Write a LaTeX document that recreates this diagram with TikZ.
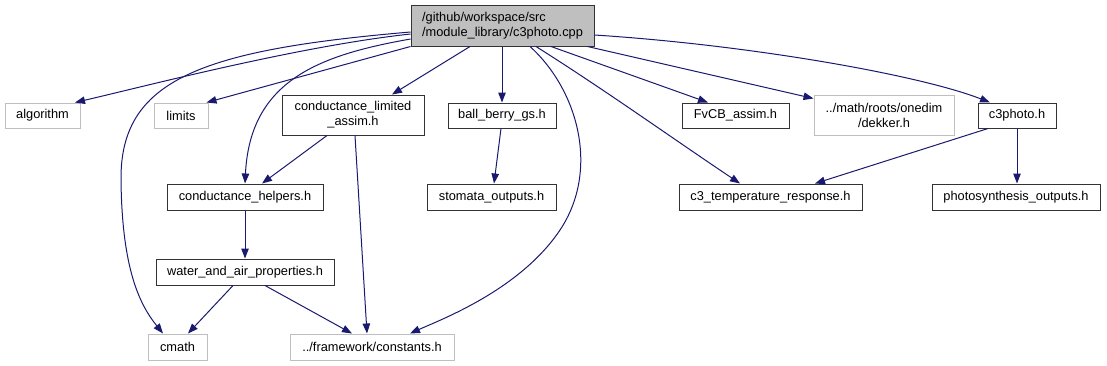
\documentclass[tikz,border=0pt]{standalone}
\usepackage{fontspec}
\setmainfont{Liberation Sans}
\usetikzlibrary{arrows.meta}
\definecolor{edgeblue}{HTML}{191970}
\definecolor{grayline}{HTML}{BFBFBF}
\definecolor{mainfill}{HTML}{BFBFBF}
\definecolor{boxline}{HTML}{333333}
\tikzset{
  filebox/.style={draw=boxline, line width=1pt, inner sep=0pt, align=center, font=\fontsize{12.8}{15}\selectfont},
  sysbox/.style={draw=grayline, line width=1pt, inner sep=0pt, align=center, font=\fontsize{12.8}{15}\selectfont},
  mainbox/.style={draw=boxline, fill=mainfill, line width=1pt, inner sep=0pt, align=left, font=\fontsize{12.8}{15}\selectfont},
  dep/.style={draw=edgeblue, line width=1pt, -{Triangle[length=10pt,width=7.5pt]}},
}
\begin{document}
\begin{tikzpicture}[x=1pt,y=-1pt]
\useasboundingbox (0,0) rectangle (1107,365);
% nodes
\node[mainbox, minimum width=183pt, minimum height=41pt] (main) at (502.5,25.5) {/github/workspace/src\\/module\_library/c3photo.cpp};
\node[sysbox, minimum width=75pt, minimum height=25pt] (algorithm) at (42.5,115.5) {algorithm};
\node[sysbox, minimum width=54pt, minimum height=25pt] (limits) at (181,115.5) {limits};
\node[filebox, minimum width=142pt, minimum height=40pt] (condlim) at (353,115) {conductance\_limited\\\_assim.h};
\node[filebox, minimum width=108pt, minimum height=25pt] (ballberry) at (502,115.5) {ball\_berry\_gs.h};
\node[filebox, minimum width=107pt, minimum height=25pt] (fvcb) at (735.5,115.5) {FvCB\_assim.h};
\node[sysbox, minimum width=140pt, minimum height=40pt] (dekker) at (884,115) {../math/roots/onedim\\/dekker.h};
\node[filebox, minimum width=78pt, minimum height=25pt] (c3photoh) at (1017,115.5) {c3photo.h};
\node[filebox, minimum width=156pt, minimum height=26pt] (condhelp) at (245,197) {conductance\_helpers.h};
\node[filebox, minimum width=129pt, minimum height=26pt] (stomata) at (491.5,197) {stomata\_outputs.h};
\node[filebox, minimum width=183pt, minimum height=26pt] (c3temp) at (770.5,197) {c3\_temperature\_response.h};
\node[filebox, minimum width=168pt, minimum height=26pt] (photosyn) at (1016,197) {photosynthesis\_outputs.h};
\node[filebox, minimum width=178pt, minimum height=26pt] (water) at (245,272) {water\_and\_air\_properties.h};
\node[sysbox, minimum width=59pt, minimum height=26pt] (cmath) at (177.5,347) {cmath};
\node[sysbox, minimum width=164pt, minimum height=26pt] (constants) at (372,347) {../framework/constants.h};
% edges from main
\draw[dep] ([yshift=-6.5pt]main.west) .. controls (200,50) and (120,80) .. (121,180) .. controls (122,270) and (140,305) .. ([xshift=-14.5pt]cmath.north);
\draw[dep] ([yshift=-8.5pt]main.west) .. controls (300,46) and (150,85) .. ([xshift=32.5pt]algorithm.north);
\draw[dep] ([yshift=-13.5pt]main.west) .. controls (320,55) and (250,80) .. (condhelp.north);
\draw[dep] (main.south west) -- ([xshift=-2pt]limits.north east);
\draw[dep] ([xshift=-32.5pt]main.south) -- ([xshift=39pt]condlim.north);
\draw[dep] (ballberry.north |- main.south) -- (ballberry.north);
\draw[dep] ([xshift=27.5pt]main.south) .. controls (578,90) and (600,170) .. (560,230) .. controls (520,290) and (440,320) .. ([xshift=38pt]constants.north);
\draw[dep] ([xshift=33.5pt]main.south) .. controls (605,90) and (672,138) .. ([xshift=-30.5pt]c3temp.north);
\draw[dep] ([xshift=48.5pt]main.south) -- ([xshift=-27.5pt]fvcb.north);
\draw[dep] ([xshift=-7pt]main.south east) -- ([yshift=-4pt]dekker.north west);
\draw[dep] ([yshift=-9.5pt]main.east) .. controls (750,45) and (920,75) .. ([xshift=-27pt]c3photoh.north);
% other edges
\draw[dep] ([xshift=-26pt]condlim.south) -- ([xshift=17pt]condhelp.north);
\draw[dep] ([xshift=2pt]condlim.south) -- ([xshift=-5pt]constants.north);
\draw[dep] ([xshift=-1pt]ballberry.south) -- ([xshift=2.5pt]stomata.north);
\draw[dep] ([xshift=-29pt]c3photoh.south) -- ([xshift=44.5pt]c3temp.north);
\draw[dep] (c3photoh.south) -- (c3photoh.south |- photosyn.north);
\draw[dep] (condhelp.south) -- (water.north);
\draw[dep] ([xshift=-12pt]water.south) -- ([xshift=10.5pt]cmath.north);
\draw[dep] ([xshift=20pt]water.south) -- ([xshift=-20pt]constants.north);
\end{tikzpicture}
\end{document}
